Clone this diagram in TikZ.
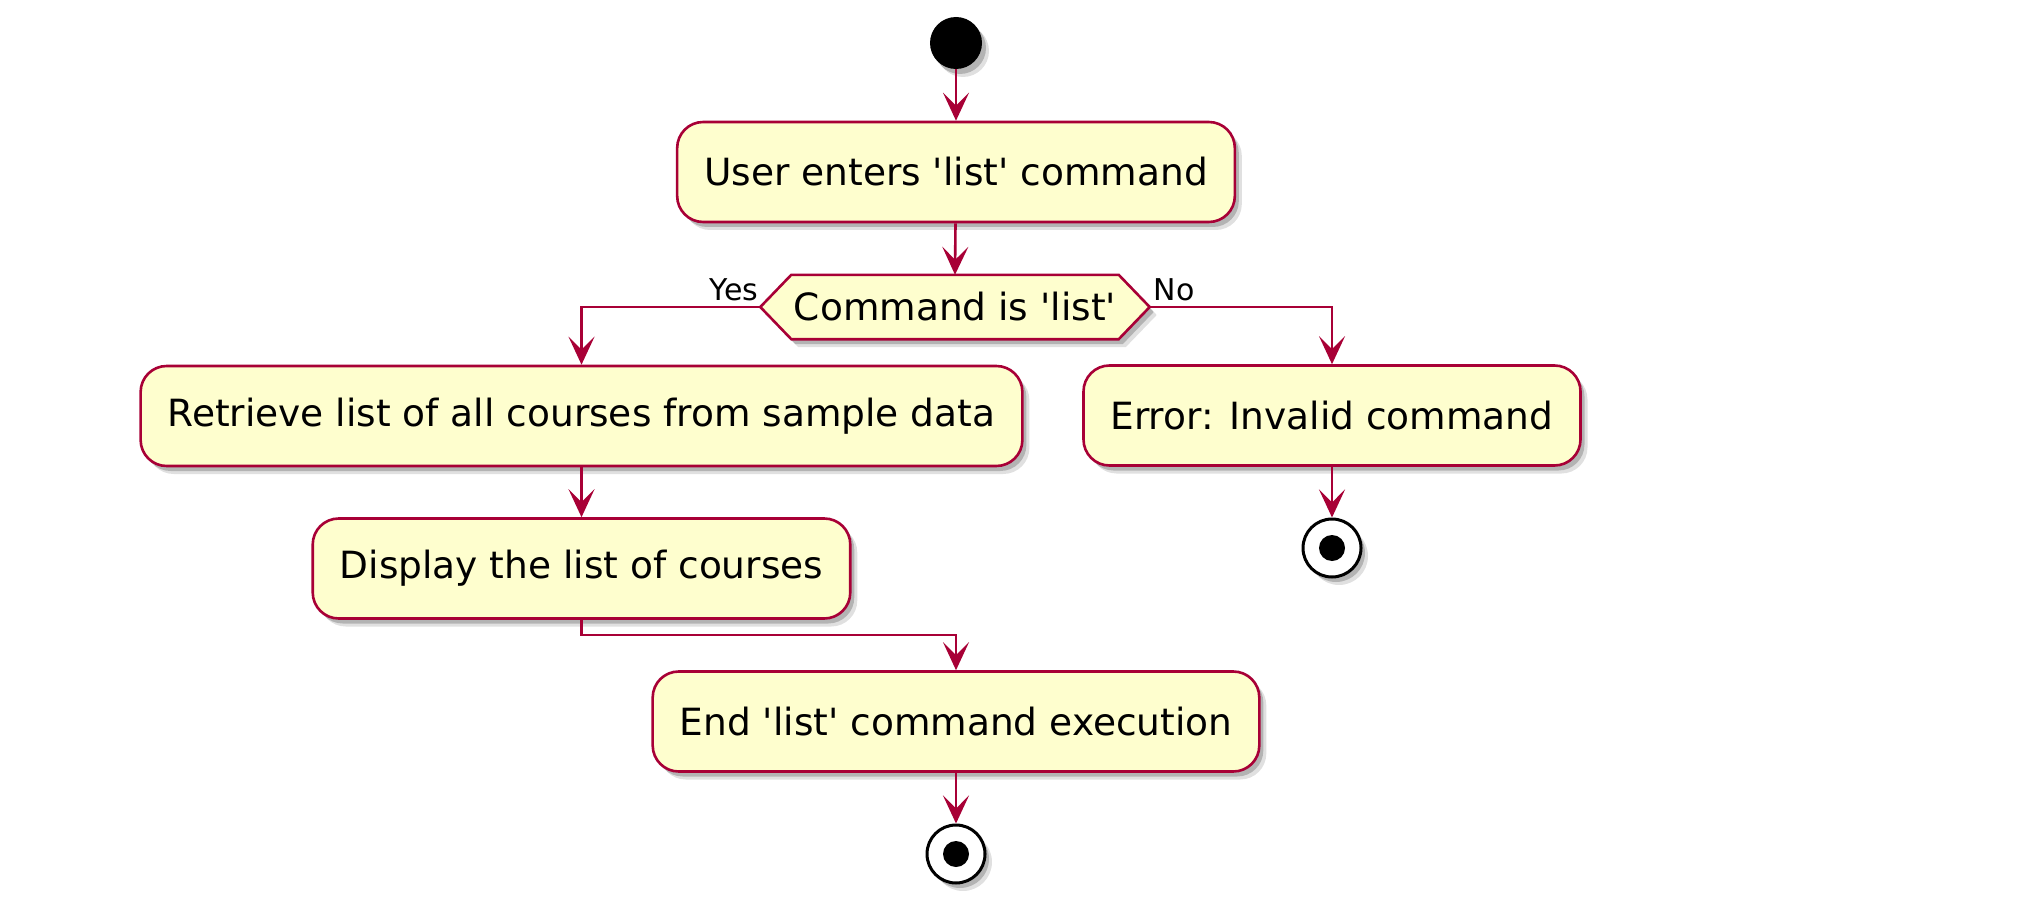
\documentclass[tikz,border=0pt]{standalone}
\usepackage{fontspec}
\setmainfont{DejaVu Sans}
\usetikzlibrary{arrows.meta,shadows,backgrounds,calc}
\definecolor{umlred}{HTML}{A80036}
\definecolor{umlfill}{HTML}{FEFECE}
\newcommand{\q}{\textquotesingle}
\begin{document}
\begin{tikzpicture}[x=1pt,y=-1pt,
  shd/.style={drop shadow={shadow xshift=7pt,shadow yshift=-8pt,fill=black,opacity=.12},
              drop shadow={shadow xshift=4pt,shadow yshift=-5pt,fill=black,opacity=.2}},
  act/.style={draw=umlred, fill=umlfill, line width=2.6pt, rounded corners=26pt,
              minimum height=100pt, inner xsep=27pt, inner ysep=0pt,
              font=\fontsize{37.5}{45}\selectfont, shd},
  dec/.style={minimum height=64pt, minimum width=327pt, inner sep=0pt,
              font=\fontsize{37.5}{45}\selectfont},
  hexa/.style={draw=umlred, fill=umlfill, line width=2.6pt, shd},
  lbl/.style={inner sep=0pt, font=\fontsize{30}{36}\selectfont},
  arr/.style={draw=umlred, line width=2.6pt, -{Stealth[length=28pt,width=26pt,inset=13pt]}},
  startc/.style={circle, fill=black, minimum size=52pt, inner sep=0pt, shd},
  stopc/.style={circle, draw=black, fill=white, line width=3pt, minimum size=58pt, inner sep=0pt, shd,
              path picture={\fill[black] (path picture bounding box.center) circle (13pt);}}]
\useasboundingbox (0,0) rectangle (2040,904);
\begin{pgfonlayer}{background}
  \fill[white] (0,0) rectangle (2040,904);
\end{pgfonlayer}

\node[startc] (start) at (956,43) {};
\node[act] (user) at (956,172) {User enters \q list\q{} command};
\node[dec] (d) at (955,307) {Command is \q list\q};
\coordinate (dl) at ($(d.west)+(-31,0)$);
\coordinate (dr) at ($(d.east)+(31,0)$);
\begin{pgfonlayer}{background}
  \path[hexa] (d.north west) -- (d.north east) -- (dr) -- (d.south east)
     -- (d.south west) -- (dl) -- cycle;
\end{pgfonlayer}
\node[lbl, anchor=base east] (yes) at ($(dl)+(-2,-7)$) {Yes};
\node[lbl, anchor=base west] (no) at ($(dr)+(4,-7)$) {No};

\node[act] (retrieve) at (581.5,416) {Retrieve list of all courses from sample data};
\node[act] (display) at (581.5,568.5) {Display the list of courses};
\node[act] (endb) at (956,721.5) {End \q list\q{} command execution};
\node[stopc] (stop1) at (956,854) {};
\node[act] (error) at (1332,415.5) {Error: Invalid command};
\node[stopc] (stop2) at (1332,548) {};

\draw[arr] (start) -- (user);
\draw[arr] (user) -- (d.north);
\draw[arr] (dl) -| (retrieve.north);
\draw[arr] (dr) -| (error.north);
\draw[arr] (retrieve) -- (display);
\draw[arr] (display.south) -- ++(0,15) -| (endb.north);
\draw[arr] (endb) -- (stop1);
\draw[arr] (error) -- (stop2);
\end{tikzpicture}
\end{document}
